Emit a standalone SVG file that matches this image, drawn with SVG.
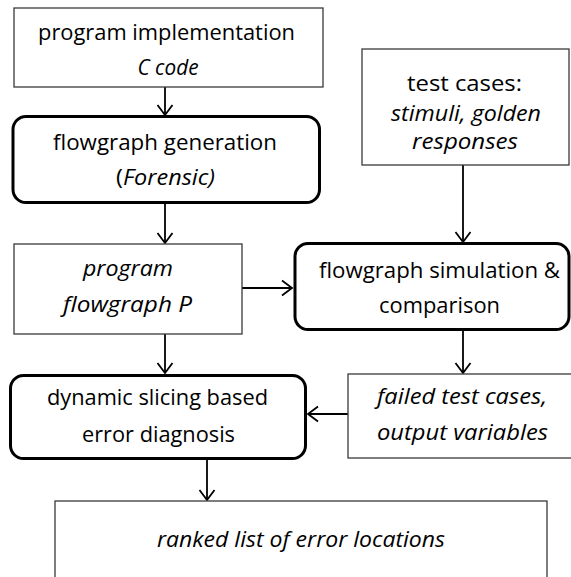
<svg xmlns="http://www.w3.org/2000/svg" width="571" height="577" viewBox="0 0 571 577">
  <style>
    .data { fill: #ffffff; stroke: #3a3a3a; stroke-width: 1.3; }
    .step { fill: #ffffff; stroke: #000000; stroke-width: 3; }
    text { font-family: "Open Sans", "Liberation Sans", sans-serif; font-size: 22px; fill: #000000; text-anchor: middle; }
    .it { font-style: italic; }
    .wire { stroke: #000000; stroke-width: 1.8; fill: none; }
  </style>
  <defs>
    <marker id="open" markerUnits="userSpaceOnUse" markerWidth="20" markerHeight="20" viewBox="-12 -10 14 20" refX="0" refY="0" orient="auto">
      <path d="M-10,-7.5 L0,0 L-10,7.5" fill="none" stroke="#000000" stroke-width="1.8"/>
    </marker>
  </defs>

  <rect width="571" height="577" fill="#ffffff"/>

  <!-- connectors -->
  <g id="connectors">
    <line class="wire" x1="165" y1="87" x2="165" y2="115" marker-end="url(#open)"/>
    <line class="wire" x1="165" y1="204" x2="165" y2="243" marker-end="url(#open)"/>
    <line class="wire" x1="463" y1="165" x2="463" y2="242" marker-end="url(#open)"/>
    <line class="wire" x1="242" y1="288" x2="292" y2="288" marker-end="url(#open)"/>
    <line class="wire" x1="165" y1="334" x2="165" y2="373" marker-end="url(#open)"/>
    <line class="wire" x1="463" y1="331" x2="463" y2="373" marker-end="url(#open)"/>
    <line class="wire" x1="348" y1="414" x2="308" y2="414" marker-end="url(#open)"/>
    <line class="wire" x1="207" y1="460" x2="207" y2="500" marker-end="url(#open)"/>
  </g>

  <g id="program-implementation">
    <rect class="data" x="14" y="8" width="309" height="79"/>
    <text x="166.5" y="40" textLength="257" lengthAdjust="spacingAndGlyphs">program implementation</text>
    <text class="it" x="168" y="75" textLength="61" lengthAdjust="spacingAndGlyphs">C code</text>
  </g>

  <g id="flowgraph-generation">
    <rect class="step" x="13" y="116.5" width="306.5" height="86" rx="13"/>
    <text x="165" y="150" textLength="224" lengthAdjust="spacingAndGlyphs">flowgraph generation</text>
    <text x="165.5" y="185" textLength="99" lengthAdjust="spacingAndGlyphs">(<tspan class="it">Forensic)</tspan></text>
  </g>

  <g id="test-cases">
    <rect class="data" x="362" y="49" width="207" height="116"/>
    <text x="464.5" y="91" textLength="115" lengthAdjust="spacingAndGlyphs">test cases:</text>
    <text class="it" x="466" y="121" textLength="150" lengthAdjust="spacingAndGlyphs">stimuli, golden</text>
    <text class="it" x="465" y="149" textLength="106" lengthAdjust="spacingAndGlyphs">responses</text>
  </g>

  <g id="program-flowgraph">
    <rect class="data" x="14" y="244" width="228" height="90"/>
    <text class="it" x="128" y="275.5" textLength="90" lengthAdjust="spacingAndGlyphs">program</text>
    <text class="it" x="127.5" y="311.5" textLength="129" lengthAdjust="spacingAndGlyphs">flowgraph P</text>
  </g>

  <g id="flowgraph-simulation">
    <rect class="step" x="295" y="243.5" width="274" height="86" rx="13"/>
    <text x="439.5" y="278" textLength="241" lengthAdjust="spacingAndGlyphs">flowgraph simulation &amp;</text>
    <text x="439.5" y="313" textLength="121" lengthAdjust="spacingAndGlyphs">comparison</text>
  </g>

  <g id="dynamic-slicing">
    <rect class="step" x="10.5" y="375.5" width="295" height="83" rx="13"/>
    <text x="157.5" y="405" textLength="221" lengthAdjust="spacingAndGlyphs">dynamic slicing based</text>
    <text x="158.5" y="442" textLength="153" lengthAdjust="spacingAndGlyphs">error diagnosis</text>
  </g>

  <g id="failed-test-cases">
    <rect class="data" x="348" y="374" width="226" height="84"/>
    <text class="it" x="462" y="404" textLength="170" lengthAdjust="spacingAndGlyphs">failed test cases,</text>
    <text class="it" x="462.5" y="440" textLength="171" lengthAdjust="spacingAndGlyphs">output variables</text>
  </g>

  <g id="error-locations">
    <rect class="data" x="55" y="501" width="492" height="90"/>
    <text class="it" x="301" y="547" textLength="288" lengthAdjust="spacingAndGlyphs">ranked list of error locations</text>
  </g>
</svg>
